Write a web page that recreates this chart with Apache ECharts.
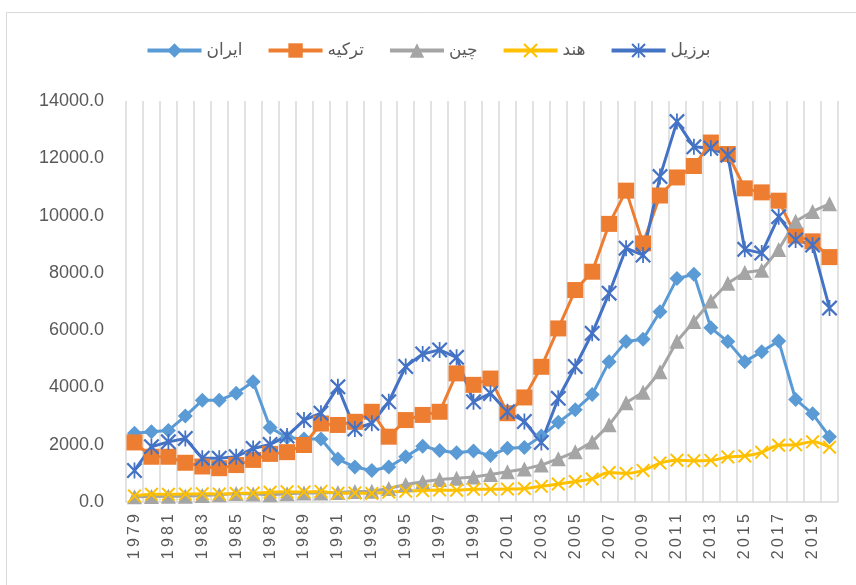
<!DOCTYPE html>
<html>
<head>
<meta charset="utf-8">
<script src="https://cdn.jsdelivr.net/npm/echarts@6/dist/echarts.min.js"></script>
<style>html,body{margin:0;padding:0;background:#fff}#c{width:856px;height:585px}</style>
</head>
<body>
<div id="c"></div>
<script>
const years = ['1979','1980','1981','1982','1983','1984','1985','1986','1987','1988','1989','1990','1991','1992','1993','1994','1995','1996','1997','1998','1999','2000','2001','2002','2003','2004','2005','2006','2007','2008','2009','2010','2011','2012','2013','2014','2015','2016','2017','2018','2019','2020'];
const seriesNames = ['ایران','ترکیه','چین','هند','برزیل'];
const iran = [2400,2450,2500,3000,3550,3550,3800,4200,2600,2250,2200,2200,1500,1220,1100,1220,1580,1950,1800,1720,1780,1620,1880,1900,2300,2780,3220,3750,4900,5600,5680,6640,7800,7950,6080,5600,4900,5250,5620,3580,3080,2280];
const turkey = [2080,1580,1580,1370,1240,1180,1290,1470,1680,1740,1990,2740,2690,2800,3150,2280,2860,3040,3150,4490,4090,4310,3100,3650,4720,6060,7400,8040,9710,10870,9030,10700,11330,11730,12550,12150,10950,10810,10520,9300,9100,8550];
const china = [183,195,197,203,225,251,294,282,252,284,311,318,333,366,377,473,610,709,782,829,873,959,1053,1149,1289,1509,1753,2099,2694,3468,3832,4550,5614,6301,7020,7636,8016,8094,8817,9800,10144,10409];
const india = [210,267,271,275,292,277,296,310,340,355,347,368,303,316,301,346,374,400,415,413,442,443,452,471,547,628,715,807,1028,999,1102,1358,1458,1444,1450,1574,1606,1733,1981,1997,2101,1913];
const brazil = [1100,1930,2100,2220,1530,1530,1580,1870,2010,2300,2860,3100,4020,2550,2750,3500,4730,5170,5310,5050,3500,3790,3150,2810,2080,3620,4730,5890,7290,8860,8620,11360,13280,12400,12350,12110,8820,8690,9960,9150,8970,6770];
const yTicks = {min: 0, max: 14000, interval: 2000};

const X_PATH = 'path://M0,1 L1,0 L5,4 L9,0 L10,1 L6,5 L10,9 L9,10 L5,6 L1,10 L0,9 L4,5 Z';
const STAR_PATH = 'path://M0,1 L1,0 L5,4 L9,0 L10,1 L6,5 L10,9 L9,10 L5,6 L1,10 L0,9 L4,5 Z M4.45,0 L5.55,0 L5.55,10 L4.45,10 Z';

function mk(name, data, color, symbol, size, smooth) {
  return {
    name: name, type: 'line', data: data, smooth: smooth || false,
    symbol: symbol, symbolSize: size, showAllSymbol: true,
    lineStyle: {color: color, width: 3},
    itemStyle: {color: color},
    emphasis: {disabled: true}
  };
}

const chart = echarts.init(document.getElementById('c'), null, {renderer: 'canvas'});
chart.setOption({
  animation: false,
  backgroundColor: '#fff',
  graphic: [{type: 'rect', shape: {x: 6.5, y: 12.5, width: 870, height: 600}, style: {fill: 'none', stroke: '#D9D9D9', lineWidth: 1}, silent: true}],
  legend: {
    top: 37, left: 'center', itemWidth: 54, itemHeight: 18, itemGap: 24,
    lineStyle: {width: 4},
    textStyle: {fontSize: 17, color: '#595959', fontFamily: 'DejaVu Sans, Liberation Sans, sans-serif'},
    data: seriesNames
  },
  grid: {left: 126, right: 18, top: 101, bottom: 83, containLabel: false},
  xAxis: {
    type: 'category', data: years, boundaryGap: true,
    axisLine: {show: true, lineStyle: {color: '#D9D9D9', width: 1.5}},
    axisTick: {show: false},
    splitLine: {show: true, interval: 0, lineStyle: {color: '#D9D9D9', width: 1.5}},
    axisLabel: {interval: 1, rotate: 90, margin: 12, fontSize: 16, color: '#595959', fontFamily: 'Liberation Sans, Arial, sans-serif',
      formatter: v => v.split('').join('\u2009')}
  },
  yAxis: {
    type: 'value', min: yTicks.min, max: yTicks.max, interval: yTicks.interval,
    axisLine: {show: false}, axisTick: {show: false}, splitLine: {show: false},
    axisLabel: {margin: 22, fontSize: 18, color: '#595959', fontFamily: 'Liberation Sans, Arial, sans-serif', formatter: v => v.toFixed(1)}
  },
  series: [
    mk(seriesNames[0], iran, '#5B9BD5', 'diamond', 15),
    mk(seriesNames[1], turkey, '#ED7D31', 'rect', 16),
    mk(seriesNames[2], china, '#A5A5A5', 'triangle', 15),
    mk(seriesNames[3], india, '#FFC000', X_PATH, 14, 0.35),
    mk(seriesNames[4], brazil, '#4472C4', STAR_PATH, 16)
  ]
});
</script>
</body>
</html>
